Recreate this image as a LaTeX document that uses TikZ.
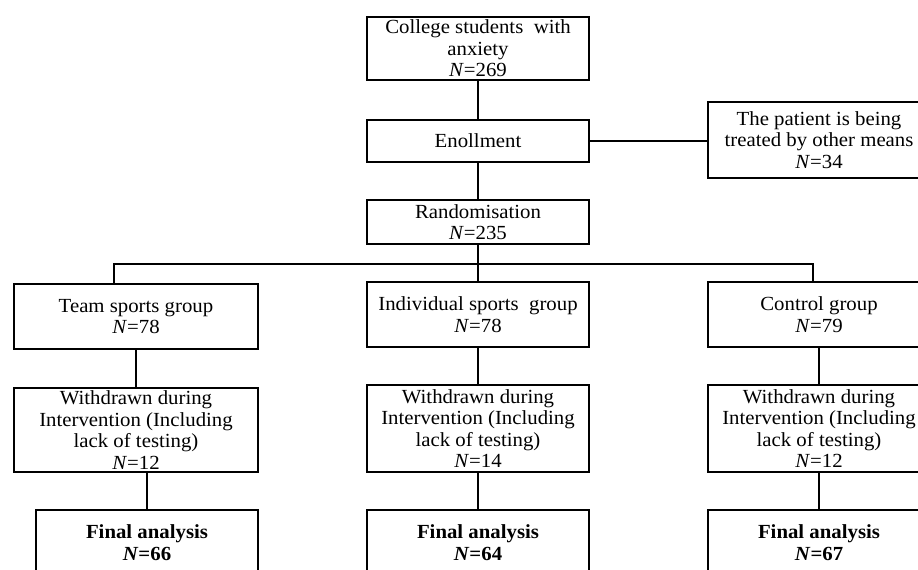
\documentclass[tikz,border=0pt]{standalone}
\usepackage{fontspec}
\setmainfont{Liberation Serif}[FakeStretch=1.04]
\begin{document}
\begin{tikzpicture}[x=1pt,y=-1pt,line width=1.2pt]
\tikzstyle{bx}=[draw, align=center, inner sep=0pt, minimum width=222pt, font=\fontsize{20}{21.5}\selectfont]
\tikzstyle{wide}=[bx, minimum width=244pt]
\useasboundingbox (0,0) rectangle (918,570);
\clip (0,0) rectangle (918,570);

\node[bx, minimum height=63pt] (col) at (478,48.5) {College students~ with\\anxiety\\\textit{N}=269};
\node[bx, minimum height=42pt] (enr) at (478,141) {Enollment};
\node[bx, minimum height=44pt] (rnd) at (478,222) {Randomisation\\\textit{N}=235};
\node[bx, minimum height=76pt] (pat) at (819,140) {The patient is being\\treated by other means\\\textit{N}=34};

\node[wide, minimum height=65pt] (tg) at (136,316.5) {Team sports group\\\textit{N}=78};
\node[bx, minimum height=65pt] (ig) at (478,314.5) {Individual sports~ group\\\textit{N}=78};
\node[bx, minimum height=65pt] (cg) at (819,314.5) {Control group\\\textit{N}=79};

\node[wide, minimum height=84pt] (w1) at (136,430) {Withdrawn during\\Intervention (Including\\lack of testing)\\\textit{N}=12};
\node[bx, minimum height=87pt] (w2) at (478,428.5) {Withdrawn during\\Intervention (Including\\lack of testing)\\\textit{N}=14};
\node[bx, minimum height=87pt] (w3) at (819,428.5) {Withdrawn during\\Intervention (Including\\lack of testing)\\\textit{N}=12};

\node[bx, minimum height=65pt] (f1) at (147,542.5) {\textbf{Final analysis}\\\textbf{\textit{N}=66}};
\node[bx, minimum height=65pt] (f2) at (478,542.5) {\textbf{Final analysis}\\\textbf{\textit{N}=64}};
\node[bx, minimum height=65pt] (f3) at (819,542.5) {\textbf{Final analysis}\\\textbf{\textit{N}=67}};

\coordinate (barL) at (114,264);
\coordinate (barR) at (813,264);

\draw (col) -- (enr);
\draw (enr) -- (rnd);
\draw (enr.east) -- (enr.east -| pat.west);
\draw (rnd) -- (ig);
\draw (barL |- tg.north) -- (barL) -- (barR) -- (barR |- cg.north);
\draw (tg) -- (tg.south |- w1.north);
\draw (ig) -- (w2);
\draw (cg) -- (w3);
\draw (f1.north) -- (f1.north |- w1.south);
\draw (w2) -- (f2);
\draw (w3) -- (f3);
\end{tikzpicture}
\end{document}
